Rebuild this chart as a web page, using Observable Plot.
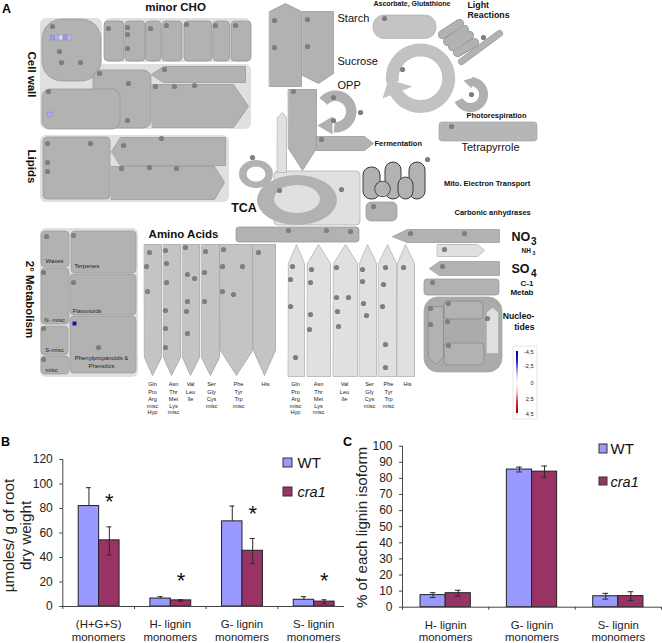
<!DOCTYPE html>
<html><head><meta charset="utf-8">
<script src="https://cdn.jsdelivr.net/npm/d3@7"></script>
<script src="https://cdn.jsdelivr.net/npm/@observablehq/plot@0.6"></script>
<style>html,body{margin:0;padding:0;background:#fff}#root{position:relative;width:662px;height:643px;overflow:hidden}#root svg{position:absolute}</style>
</head><body><div id="root"></div>
<script>
// ---------- Panels B and C data ----------
const categoriesB = ["(H+G+S)", "H- lignin", "G- lignin", "S- lignin"];
const wtB = [82, 6.5, 69.5, 5.5];
const wtHighB = [97, 8, 82, 8];
const craB = [54, 5, 45.5, 4];
const craLowB = [42, 4.2, 35, 2.5];
const craHighB = [65, 5.5, 55.5, 5.5];
const starsB = [88, 23, 78, 23];
const ticksB = [0, 20, 40, 60, 80, 100, 120];
const categoriesC = ["H- lignin", "G- lignin", "S- lignin"];
const wtC = [7.5, 85.5, 6.8];
const wtErrC = [1.5, 1.5, 1.8];
const craC = [8.7, 84.2, 6.9];
const craErrC = [1.8, 3.5, 2.7];
const ticksC = [0, 10, 20, 30, 40, 50, 60, 70, 80, 90, 100];

// ---------- Panel A diagram geometry, [x1,x2,y1,y2] or point lists, in picture units ----------
const bgPanels = [[40,102,18,90],[104,251,18,62],[40,251,64,129],[40,229,135,202],[40,138,228,377]];
const blob = [[42,101,19,81]];
const cellRects4 = [[104,124,21,61],[125,145,21,61],[145.5,161,21,61],[162,182,21,61],[184,212,21,61],[213,229.5,21,61],[231,251,21,61],[43,110,137,199]];
const cellRects8 = [[93,151,70,128],[42,120,89,129]];
const secMetab = [[41,69,231,267],[71,136,231,273],[41,69,268,324],[70,136,274,315],[41,68,326,355],[70,136,316,373],[41,69,356,374]];
const darkPolys = [
 [[151,74],[163,66],[245,66],[245,82],[163,82]],
 [[152,84],[233,84],[248,106],[233,127],[152,127]],
 [[111,151],[120,137],[225,137],[225,165],[120,165]],
 [[111,166],[214,166],[224,182],[214,199],[111,199]],
 [[269,11],[285,3],[301,11],[301,86],[269,86]],
 [[302,11],[333,11],[333,73],[318,83],[302,75]],
 [[316,136],[364,136],[373,143],[364,150],[316,150]],
 [[288,89],[316,89],[316,148],[302,170],[288,148]],
 [[392,236],[407,229],[499,229],[499,242],[407,242]],
 [[429,268],[439,261],[499,261],[499,275],[439,275]]
];
const lightPolys = [
 [[277,117],[282,112],[286,117],[286,172],[277,172]],
 [[437,244],[477,244],[484,250],[477,256],[437,256]],
 [[288,263],[296,244],[304,263],[304,376],[288,376]],
 [[307,263],[318,244],[330,263],[330,376],[307,376]],
 [[333,263],[345,244],[357,263],[357,376],[333,376]],
 [[359,263],[367,244],[376,263],[376,376],[359,376]],
 [[378,263],[387,244],[396,263],[396,376],[378,376]],
 [[397,263],[405,244],[414,263],[414,376],[397,376]]
];
const midPolys = [
 [[144,244],[161,244],[161,357],[152,375],[144,357]],
 [[163,244],[180,244],[180,357],[171,375],[163,357]],
 [[182,244],[199,244],[199,357],[190,375],[182,357]],
 [[201,244],[219,244],[219,357],[210,375],[201,357]],
 [[220,244],[252,244],[252,350],[236,375],[220,350]],
 [[253,244],[275,244],[275,350],[264,375],[253,350]]
];
const outlineOnly = [[[428,306],[443,306],[443,357],[435,364],[428,357]]];
const outlineRects = [[444,483,301,319],[444,484,343,365]];
const nucleoLight = [[[486,312],[492,307],[498,312],[498,353],[486,353]]];
const barsDark = [[236,359,227,242],[424,499,279,295]];
const tetra = [[439,537,122,141]];
const carbonic = [[366,397,202,221]];
const mito = [[363,380,167,199],[385,401,162,199],[409,425,162,199],[398,413,177,199]];
const lightCaps = [[442,34,459,23],[447,41,464,29],[452,46,469,35],[457,52,474,42]];
const thinCap = [[461,61,499,33]];
// arcs: centre x, centre y, inner r, outer r, start angle, end angle
const arcs = [
 {c:[420,77.7,21.8,34.7,-98,250], head:[[388,79],[412,86],[382,98]], fill:"#c2c2c2"},
 {c:[335,111,10.5,21,-50,185], head:[[332,116],[332,134],[317,125]], fill:"#b0b0b0"},
 {c:[470,94,8.5,17.5,5,245], head:[[463,80],[473,77],[471,88]], fill:"#b0b0b0"}
];
const dotsA = [
[52,26],[59,51],[61,62],[80,62],[108,28],[127,27],[127,34],[127,48],[150,28],[166,25],[186,24],[215,25],[235,25],[99,73],[128,83],[127,120],[48,91],[164,69],[155,86],[174,86],[194,85],[47,143],[90,143],[47,162],[47,171],[123,145],[161,138],[121,168],[149,167],[176,168],[274,20],[274,47],[307,19],[307,46],[293,91],[321,139],[252,157],[279,190],
[384,18],[402,69],[483,37],[471,94],[451,126],[333,97],[333,120],[360,112],[427,159],[341,189],[373,206],
[46,236],[73,235],[43,272],[73,282],[43,328],[98,347],[43,359],
[288,230],[326,230],[350,231],[410,233],[464,233],[444,249],[442,266],[432,282],[430,308],[430,324],[448,303],[447,321],[448,345],[487,318],
[149,252],[146,266],[147,291],[165,250],[166,263],[166,282],[165,310],[165,328],[165,347],[185,247],[187,274],[194,278],[187,301],[186,311],[187,333],[205,251],[204,272],[204,301],[223,249],[222,266],[242,266],[222,291],[233,294],[258,252],
[292,266],[290,279],[290,306],[295,357],[311,269],[310,282],[310,314],[309,329],[336,267],[336,297],[348,297],[337,311],[338,326],[362,269],[362,281],[363,303],[366,315],[385,267],[383,284],[382,306],[385,344],[385,367],[403,267]
];
const paleCells = [[50.7,54.8,35,40,"#9c9ce2"],[54.8,58.9,35,40,"#b4b4ec"],[58.9,63,35,40,"#dadafa"],[63,67.1,35,40,"#9c9ce2"],[67.1,71.2,35,40,"#bcbcf0"],[47.5,52,112,116.5,"#a8a8ec"],[72.5,76.5,321.5,325.5,"#10109a"]];
const colorStops = ["#000088","#2828c0","#b8b8ee","#ffffff","#f6c4c4","#d02830","#98000c"];
// texts: label, x, y
const leftLabels = [["Photorespiration",466,115.5],["Fermentation",374,143],["Mito. Electron Transport",443.5,183],["Carbonic anhydrases",454,212]];
const lightLabels = [["Light",467,5],["Reactions",467,15]];
const plainLabels = [["Starch",337,18],["Sucrose",337,61],["OPP",337,85]];
const boldRight = [["C-1",533,283],["Metab",533,291.5]];
const nucleoLabels = [["Nucleo-",534,316],["tides",534,327]];
const smallLabels = [["Waxes",54,261],["N- misc",54,320],["S-misc",54,350],["misc",51,369.5],["Phenylpropanoids &",101,358],["Phenolics",101,366]];
const smallLeft = [["Terpenes",74,266],["Flavonoids",72,311]];
const aaColumns = [
 [["Gln","Pro","Arg","misc","Hyp"],152],[["Asn","Thr","Met","Lys","misc"],173],[["Val","Leu","Ile"],190],[["Ser","Gly","Cys","misc"],211],[["Phe","Tyr","Trp","misc"],238],[["His"],265],
 [["Gln","Pro","Arg","misc","Hyp"],295],[["Asn","Thr","Met","Lys","misc"],318],[["Val","Leu","Ile"],344],[["Ser","Gly","Cys","misc"],369],[["Phe","Tyr","Trp","misc"],388],[["His"],407]
];
const aaLineY = [384,392,399,406,412];
const scaleLabels = [["-4,5",352],["-2,5",366],["0",383],["2,5",399],["4,5",414]];

// ---------- helpers ----------
const FONT = "'Liberation Sans', Arial, sans-serif";
const rrect = (list, r, fill, stroke, sw=0.7) => Plot.rect(list, {x1:d=>d[0], x2:d=>d[1], y1:d=>d[2], y2:d=>d[3], rx:r, ry:r, fill, stroke, strokeWidth:sw});
const polys = (list, fill, stroke, sw=0.7) => {
  const flat = list.flatMap((pts,i)=>pts.map(p=>({x:p[0],y:p[1],z:i})));
  return Plot.line(flat,{x:"x",y:"y",z:"z",fill,stroke,strokeWidth:sw,curve:"linear-closed"});
};
const ellipse = (cx,cy,a,b,fill) => Plot.rect([[cx-a,cx+a,cy-b,cy+b]],{x1:d=>d[0],x2:d=>d[1],y1:d=>d[2],y2:d=>d[3],rx:a,ry:b,fill});
const arcPts = ([cx,cy,r0,r1,a0,a1]) => {
  const t = d3.range(a0,a1,5).concat(a1).map(a=>a*Math.PI/180);
  return t.map(a=>[cx+r1*Math.sin(a),cy-r1*Math.cos(a)]).concat(t.reverse().map(a=>[cx+r0*Math.sin(a),cy-r0*Math.cos(a)]));
};
const txt = (list, o) => Plot.text(list,{x:d=>d[1],y:d=>d[2],text:d=>d[0],fontFamily:FONT,lineAnchor:"middle",fill:"#111",...o});
const caps = (list, w, stroke) => Plot.link(list,{x1:d=>d[0],y1:d=>d[1],x2:d=>d[2],y2:d=>d[3],stroke,strokeWidth:w,strokeLinecap:"round"});

const DARK="#b2b2b2", EDGE="#939393", LIGHT="#e0e0e0", LEDGE="#aaaaaa", MID="#c4c4c4";
const colorRamp = d3.scaleLinear().domain(colorStops.map((_,i)=>i/(colorStops.length-1))).range(colorStops);
const rampRows = d3.range(351,413).map(y=>({y, c:colorRamp((y-351)/61)}));
const aaText = aaColumns.flatMap(([names,x])=>names.map((n,i)=>[n,x,aaLineY[i]]));

// ---------- Diagram + letters + legends ----------
const diagram = Plot.plot({
  width:662,height:643,margin:0,
  x:{domain:[0,662],range:[0,662],axis:null},
  y:{domain:[0,643],range:[0,643],axis:null},
  color:{type:"identity"},
  style:{fontFamily:FONT,background:"white",left:"0px",top:"0px"},
  marks:[
    rrect(bgPanels,6,LIGHT,"none"),
    rrect(blob,20,DARK,EDGE),
    rrect(cellRects8,8,DARK,EDGE),
    rrect(cellRects4,4,DARK,EDGE),
    rrect(secMetab,4,DARK,"#9a9a9a"),
    rrect([[274,360,171,225]],4,LIGHT,LEDGE),
    ellipse(297,200,40,25,DARK),
    ellipse(297,199,23,14,LIGHT),
    ellipse(256,174,17,14,DARK),
    ellipse(256,174,9.5,7.5,"#fff"),
    polys(lightPolys,LIGHT,LEDGE),
    polys(midPolys,MID,"#9c9c9c"),
    polys(darkPolys,DARK,EDGE),
    rrect(barsDark,3,DARK,EDGE),
    rrect(tetra,3,"#b6b6b6","#a8a8a8"),
    rrect([[373,436,15,38.5]],11,MID,"#b0b0b0"),
    rrect(carbonic,5,DARK,"#9a9a9a"),
    rrect([[424,502,297,372]],14,"#ababab","#a0a0a0"),
    polys(outlineOnly,DARK,"#858585"),
    rrect(outlineRects,4,DARK,"#858585"),
    polys(nucleoLight,LIGHT,LEDGE),
    rrect(mito,8,DARK,"#3c3c3c",1),
    ellipse(382.5,189,8.2,8.2,"#3c3c3c"),
    ellipse(382.5,189,7.4,7.4,DARK),
    ...arcs.map(a=>polys([arcPts(a.c)],a.fill,"none")),
    ...arcs.map(a=>polys([a.head],a.fill,"none")),
    caps(lightCaps,9,"#8e8e8e"), caps(lightCaps,7.6,DARK),
    caps(thinCap,7,"#9e9e9e"), caps(thinCap,5.8,DARK),
    Plot.dot(dotsA,{x:d=>d[0],y:d=>d[1],r:2.6,fill:"#7e7e7e"}),
    Plot.rect(paleCells,{x1:d=>d[0],x2:d=>d[1],y1:d=>d[2],y2:d=>d[3],fill:d=>d[4],stroke:"#8080c8",strokeWidth:0.4}),
    // diagram labels
    txt([["A",6,8],["B",5,441],["C",347,441]],{fontSize:12.5,fontWeight:"bold",fill:"#000"}),
    txt([["minor CHO",175,7],["Amino Acids",183,234]],{fontSize:11.5,fontWeight:"bold"}),
    txt([["Cell wall",31,74],["Lipids",31,166],["2° Metabolism",29,299]],{fontSize:11.5,fontWeight:"bold",rotate:90}),
    txt([["TCA",243.5,207]],{fontSize:12.5,fontWeight:"bold"}),
    txt([["Ascorbate, Glutathione",373,3.5]],{fontSize:7,fontWeight:"bold",textAnchor:"start"}),
    txt(leftLabels,{fontSize:7.5,fontWeight:"bold",textAnchor:"start"}),
    txt(lightLabels,{fontSize:8.8,fontWeight:"bold",textAnchor:"start"}),
    txt(plainLabels,{fontSize:11,textAnchor:"start"}),
    txt([["Tetrapyrrole",490,147]],{fontSize:11}),
    txt(boldRight,{fontSize:8,fontWeight:"bold",textAnchor:"end"}),
    txt(nucleoLabels,{fontSize:8.7,fontWeight:"bold",textAnchor:"end"}),
    txt([["NO",511,236],["SO",511,268]],{fontSize:12.5,fontWeight:"bold",textAnchor:"start"}),
    txt([["3",530.5,241],["4",530.5,273]],{fontSize:10,fontWeight:"bold",textAnchor:"start"}),
    txt([["NH",521,250]],{fontSize:6.5,fontWeight:"bold",textAnchor:"start"}),
    txt([["3",532,252.5]],{fontSize:5,fontWeight:"bold",textAnchor:"start"}),
    txt(smallLabels,{fontSize:6,fill:"#222"}),
    txt(smallLeft,{fontSize:6,fill:"#222",textAnchor:"start"}),
    txt(aaText,{fontSize:5.6,fill:"#222"}),
    // log-fold colour key
    rrect([[513,537,346,419]],0,"#fff","#dcdcdc"),
    Plot.rect(rampRows,{x1:516,x2:518,y1:"y",y2:d=>d.y+1,fill:"c"}),
    Plot.text(scaleLabels,{x:533,y:d=>d[1],text:d=>d[0],fontFamily:FONT,fontSize:5.6,textAnchor:"end",lineAnchor:"middle",fill:"#222"}),
    // legends of panels B and C
    rrect([[283,292,458,467],[599,607,444,453]],0,"#9999ff","#333",1),
    rrect([[283,292,487,496],[599,607,477,485]],0,"#993366","#333",1),
    txt([["WT",297,463],["WT",610,449]],{fontSize:15,textAnchor:"start"}),
    txt([["cra1",297,492],["cra1",610,482]],{fontSize:14.5,fontStyle:"italic",textAnchor:"start"})
  ]
});

// ---------- Bar panels ----------
function barPanel({cats, wt, wtLo, wtHi, cra, craLo, craHi, yTicks, yMax, left, w, top, h, mL, mR, mT, mB, off, bw, capHalf, tickPad, stars, axisEnd, xTicks, dy2}) {
  const wtRows = cats.map((c,i)=>({x1:i+off,x2:i+off+bw,v:wt[i],lo:wtLo[i],hi:wtHi[i]}));
  const craRows = cats.map((c,i)=>({x1:i+off+bw,x2:i+off+2*bw,v:cra[i],lo:craLo[i],hi:craHi[i]}));
  const all = wtRows.concat(craRows).map(d=>({...d,mid:(d.x1+d.x2)/2}));
  const ink = "#2a2a2a";
  const marks = [
    Plot.rect(wtRows,{x1:"x1",x2:"x2",y1:0,y2:"v",fill:"#9999ff",stroke:"#222",strokeWidth:1}),
    Plot.rect(craRows,{x1:"x1",x2:"x2",y1:0,y2:"v",fill:"#993366",stroke:"#222",strokeWidth:1}),
    Plot.ruleX(all,{x:"mid",y1:"lo",y2:"hi",stroke:ink,strokeWidth:1}),
    Plot.ruleY(all,{y:"hi",x1:d=>d.mid-capHalf,x2:d=>d.mid+capHalf,stroke:ink,strokeWidth:1}),
    Plot.ruleY(all.filter(d=>d.lo<d.v),{y:"lo",x1:d=>d.mid-capHalf,x2:d=>d.mid+capHalf,stroke:ink,strokeWidth:1}),
    Plot.ruleY([0],{x1:0,x2:axisEnd,stroke:"#444",strokeWidth:1}),
    Plot.ruleX([0],{stroke:"#444",strokeWidth:1}),
    Plot.axisY({ticks:yTicks,tickSize:3,tickPadding:tickPad,fontSize:12,label:null,stroke:"#444",fill:"#222",fontFamily:FONT}),
    Plot.axisX({ticks:xTicks,tickSize:3,tickFormat:()=>"",label:null,stroke:"#444"}),
    Plot.text(cats,{x:(c,i)=>i+0.5,y:0,text:c=>c,dy:18,fontSize:11.4,fontFamily:FONT,fill:"#222",lineAnchor:"middle"}),
    Plot.text(cats,{x:(c,i)=>i+0.5,y:0,text:()=>"monomers",dy:dy2,fontSize:11.4,fontFamily:FONT,fill:"#222",lineAnchor:"middle"})
  ];
  if (stars) marks.push(Plot.text(stars,{x:(s,i)=>i+off+1.5*bw,y:s=>s,text:()=>"*",dy:3,fontSize:22,fontFamily:FONT,fill:"#111",lineAnchor:"middle"}));
  return Plot.plot({
    width:w,height:h,marginLeft:mL,marginRight:mR,marginTop:mT,marginBottom:mB,
    x:{domain:[0,cats.length],axis:null},
    y:{domain:[0,yMax],axis:null},
    style:{fontFamily:FONT,background:"transparent",left:left+"px",top:top+"px"},
    marks
  });
}
const panelB = barPanel({cats:categoriesB,wt:wtB,wtLo:wtB,wtHi:wtHighB,cra:craB,craLo:craLowB,craHi:craHighB,
  yTicks:ticksB,yMax:120,left:0,w:350,top:425,h:218,mL:62.3,mR:1,mT:34,mB:37,off:0.222,bw:0.285,capHalf:0.035,tickPad:7,stars:starsB,axisEnd:3.93,xTicks:[0,1,2,3],dy2:31});
const panelC = barPanel({cats:categoriesC,wt:wtC,wtLo:wtC.map((v,i)=>v-wtErrC[i]),wtHi:wtC.map((v,i)=>v+wtErrC[i]),
  cra:craC,craLo:craC.map((v,i)=>v-craErrC[i]),craHi:craC.map((v,i)=>v+craErrC[i]),
  yTicks:ticksC,yMax:100,left:346,w:316,top:425,h:218,mL:56,mR:1,mT:20.7,mB:36.3,off:0.209,bw:0.291,capHalf:0.033,tickPad:7,axisEnd:3,xTicks:[0,1,2,3],dy2:30.5});

const labelsOverlay = Plot.plot({
  width:662,height:643,margin:0,
  x:{domain:[0,662],range:[0,662],axis:null},
  y:{domain:[0,643],range:[0,643],axis:null},
  style:{background:"transparent",left:"0px",top:"0px",pointerEvents:"none"},
  marks:[
    txt([["µmoles/ g of root",9,535],["dry weight",26,535],["% of each lignin isoform",362,527]],{fontSize:15.2,rotate:-90,fill:"#222"})
  ]
});
const root = document.getElementById("root");
[diagram,panelB,panelC,labelsOverlay].forEach(n=>root.appendChild(n));
</script></body></html>
